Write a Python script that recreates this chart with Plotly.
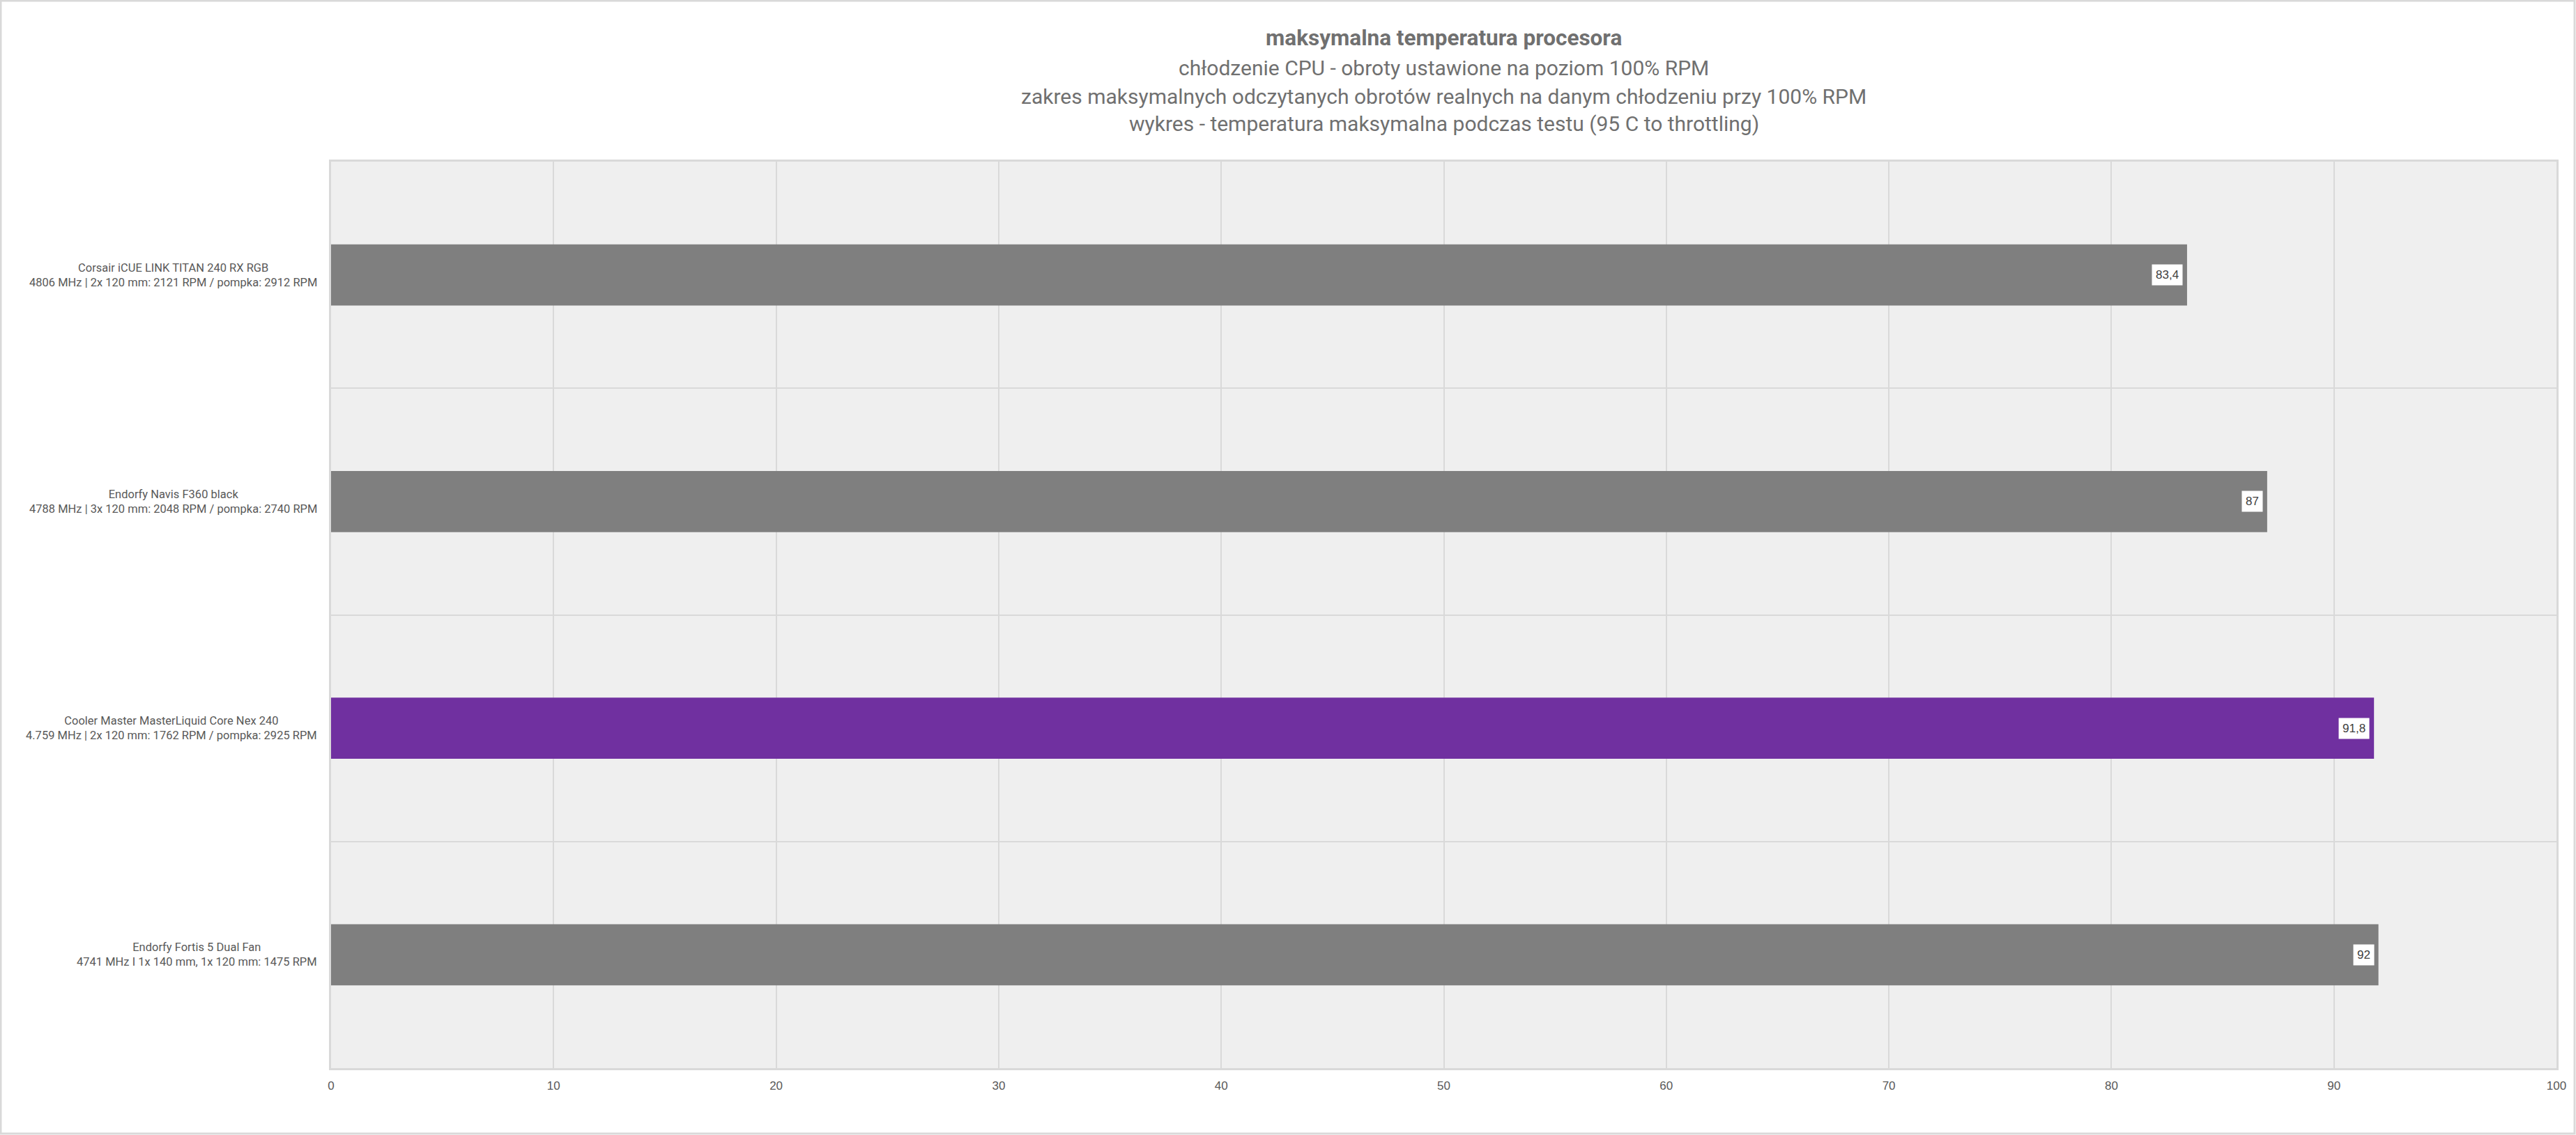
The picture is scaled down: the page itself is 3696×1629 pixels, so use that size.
import plotly.graph_objects as go

categories = [
    "Corsair iCUE LINK TITAN 240 RX RGB<br>4806 MHz | 2x 120 mm: 2121 RPM / pompka: 2912 RPM",
    "Endorfy Navis F360 black<br>4788 MHz | 3x 120 mm: 2048 RPM / pompka: 2740 RPM",
    "Cooler Master MasterLiquid Core Nex 240<br>4.759 MHz | 2x 120 mm: 1762 RPM / pompka: 2925 RPM",
    "Endorfy Fortis 5 Dual Fan<br>4741 MHz I 1x 140 mm, 1x 120 mm: 1475 RPM",
]
values = [83.4, 87, 91.8, 92]
labels = ["83,4", "87", "91,8", "92"]
bar_colors = ["#7f7f7f", "#7f7f7f", "#7030a0", "#7f7f7f"]
x_ticks = [0, 10, 20, 30, 40, 50, 60, 70, 80, 90, 100]

title_lines = [
    "<b>maksymalna temperatura procesora</b>",
    "chłodzenie CPU - obroty ustawione na poziom 100% RPM",
    "zakres maksymalnych odczytanych obrotów realnych na danym chłodzeniu przy 100% RPM",
    "wykres - temperatura maksymalna podczas testu (95 C to throttling)",
]
title_line_px = [55, 98, 138, 178]
title_line_size = [31.5, 30, 30, 30]

W, H = 3696, 1629
ML, MR, MT, MB = 475, 28, 232, 96
PW, PH = W - ML - MR, H - MT - MB

fig = go.Figure()
fig.add_trace(go.Bar(
    y=categories, x=values, orientation="h",
    marker=dict(color=bar_colors, line=dict(width=0)),
    width=0.27, hoverinfo="skip",
))

annotations = []
for c, v, t in zip(categories, values, labels):
    annotations.append(dict(
        x=v, y=c, xref="x", yref="y", text=t, showarrow=False,
        xanchor="right", yanchor="middle", xshift=-6,
        bgcolor="white", borderpad=5,
        font=dict(family="Liberation Sans, Arial", size=17, color="#404040"),
    ))
    annotations.append(dict(
        x=-18 / PW, y=c, xref="paper", yref="y", text=c,
        showarrow=False, xanchor="right", yanchor="middle", align="center",
        font=dict(family="Roboto", size=16.5, color="#595959"),
    ))

for line, ypx, sz in zip(title_lines, title_line_px, title_line_size):
    annotations.append(dict(
        x=0.5, y=1 + (MT - ypx) / PH, xref="paper", yref="paper",
        text=line, showarrow=False, xanchor="center", yanchor="middle",
        font=dict(family="Roboto", size=sz, color="#707070"),
    ))

fig.update_layout(
    width=W, height=H,
    margin=dict(l=ML, r=MR, t=MT, b=MB),
    paper_bgcolor="white",
    plot_bgcolor="#efefef",
    showlegend=False,
    xaxis=dict(
        range=[0, 100], tickvals=x_ticks, ticktext=[str(v) for v in x_ticks],
        showgrid=True, gridcolor="#d9d9d9", gridwidth=2,
        showline=True, linecolor="#d9d9d9", linewidth=3, mirror=True,
        zeroline=False, ticks="", ticklabelstandoff=8,
        tickfont=dict(family="Liberation Sans, Arial", size=17, color="#595959"),
        fixedrange=True,
    ),
    yaxis=dict(
        type="category", autorange="reversed", tickson="boundaries",
        showticklabels=False, showgrid=True, gridcolor="#d9d9d9", gridwidth=2,
        showline=True, linecolor="#d9d9d9", linewidth=3, mirror=True,
        ticks="", fixedrange=True,
    ),
    annotations=annotations,
    shapes=[dict(
        type="rect", xref="paper", yref="paper",
        x0=-(ML - 1) / PW, x1=1 + (MR - 2) / PW,
        y0=-(MB - 2) / PH, y1=1 + (MT - 1) / PH,
        line=dict(color="#d9d9d9", width=3), layer="below",
    )],
)

fig.write_html(
    "out.html",
    config={"displayModeBar": False},
    post_script="document.body.style.margin='0';document.body.style.overflow='hidden';",
)
